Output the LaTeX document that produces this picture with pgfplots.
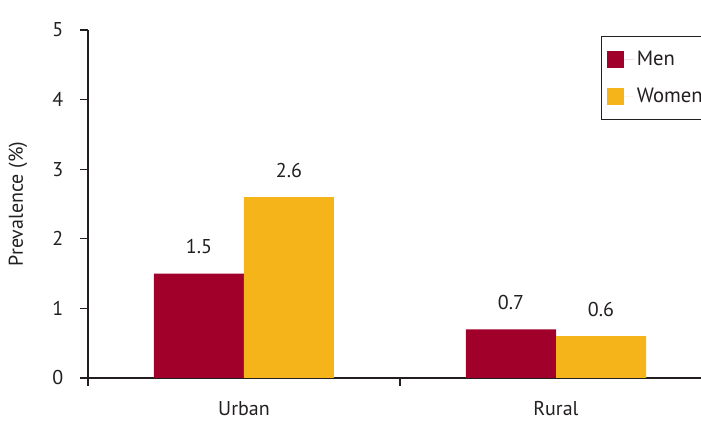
\documentclass[border=0pt]{standalone}
\usepackage{pgfplots}
\pgfplotsset{compat=1.18}
\usepackage{fontspec}
\setmainfont{PT Sans}
\definecolor{menc}{HTML}{A0002A}
\definecolor{womc}{HTML}{F5B51A}
\definecolor{txt}{HTML}{231F20}
\begin{document}
\begin{tikzpicture}
\useasboundingbox (-66pt,-35.25pt) rectangle (459.75pt,283.5pt);
\clip (-66pt,-35.25pt) rectangle (459.75pt,283.5pt);
\begin{axis}[
  scale only axis,
  width=468pt, height=261pt,
  at={(0pt,0pt)}, anchor=south west,
  ybar=0pt, bar width=67.5pt,
  xmin=-0.5, xmax=1.5, ymin=0, ymax=5,
  axis x line=bottom, axis y line=left,
  axis line style={txt, line width=0.8pt, -},
  xtick={-0.5,0.5,1.5}, xticklabels={},
  extra x ticks={0,1}, extra x tick labels={Urban, Rural},
  extra x tick style={major tick length=0pt, xticklabel style={yshift=-14pt}},
  tick style={txt, line width=0.8pt}, major tick length=6pt, tick align=outside,
  ytick={0,1,2,3,4,5},
  tick label style={font=\fontsize{15}{18}\selectfont, text=txt},
  /pgf/number format/assume math mode=true,
  yticklabel style={xshift=-9pt},
  ylabel={Prevalence (\%)},
  ylabel style={font=\fontsize{15}{18}\selectfont, text=txt, at={(axis description cs:-0.1122,0.5)}, anchor=center},
  nodes near coords,
  every node near coord/.append style={font=\fontsize{15}{18}\selectfont, text=txt, yshift=11pt},
  nodes near coords style={/pgf/number format/.cd, fixed, fixed zerofill, precision=1},
  legend style={at={(axis description cs:0.8221,0.9828)}, anchor=north west, draw=txt, line width=0.8pt,
    font=\fontsize{15.5}{18}\selectfont, text=txt, inner xsep=4pt, inner ysep=9pt, row sep=11.5pt,
    cells={anchor=west}},
  legend image code/.code={\fill[#1] (0pt,-6.4pt) rectangle (12.8pt,6.4pt); \path (0pt,0pt) -- (20.5pt,0pt);},
]
\addplot[fill=menc, draw=none] coordinates {(0,1.5) (1,0.7)};
\addplot[fill=womc, draw=none] coordinates {(0,2.6) (1,0.6)};
\legend{Men\rule{60pt}{0pt}, Women\rule{40pt}{0pt}}
\end{axis}
\end{tikzpicture}
\end{document}
